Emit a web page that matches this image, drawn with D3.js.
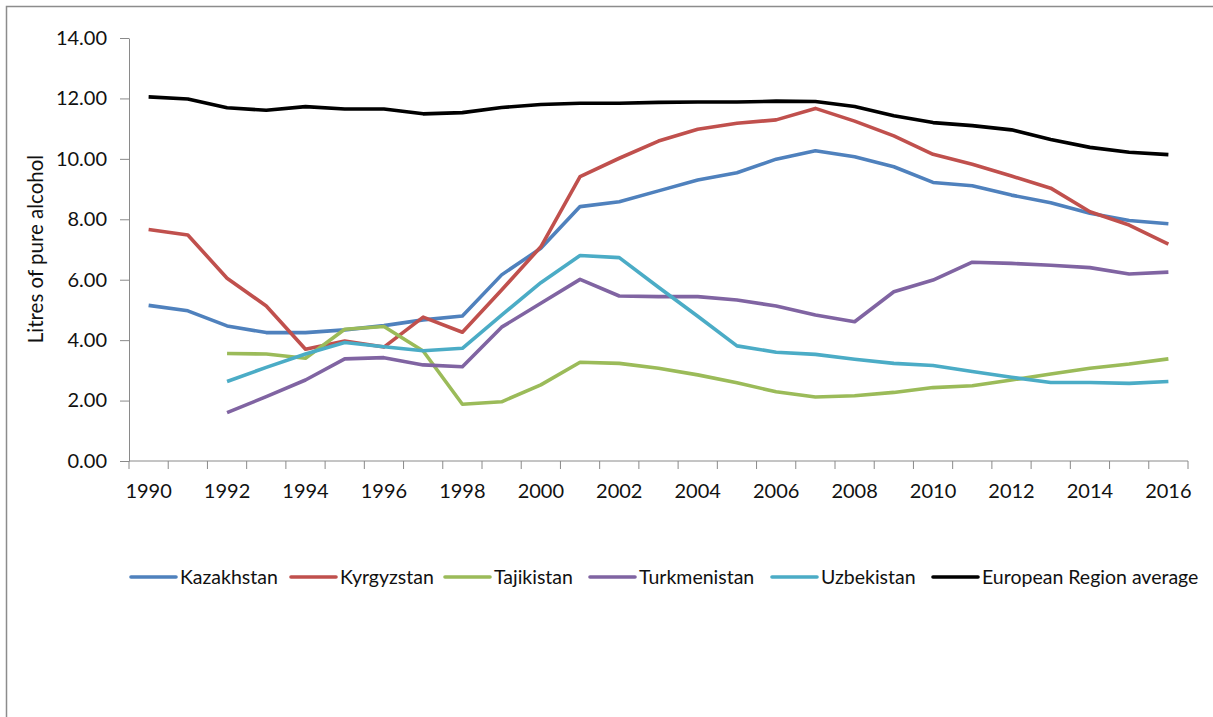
<!DOCTYPE html>
<html>
<head>
<meta charset="utf-8">
<script src="https://cdn.jsdelivr.net/npm/d3@7"></script>
<style>
  body { margin: 0; background: #fff; }
  svg { display: block; }
  text { font-family: Lato, "Open Sans", sans-serif; fill: #111; }
</style>
</head>
<body>
<svg width="1213" height="717"></svg>
<script>
// Years on the category axis.
var years = d3.range(1990, 2017);

// Series values, litres of pure alcohol per capita (null = no data).
var kazakhstan = [5.15, 4.97, 4.47, 4.25, 4.25, 4.34, 4.48, 4.67, 4.80, 6.16, 7.04, 8.42, 8.58, 8.94, 9.30, 9.54, 9.99, 10.27, 10.07, 9.74, 9.22, 9.11, 8.80, 8.55, 8.20, 7.96, 7.85];
var kyrgyzstan = [7.66, 7.48, 6.05, 5.13, 3.70, 3.97, 3.77, 4.76, 4.26, 5.66, 7.09, 9.41, 10.02, 10.59, 10.98, 11.18, 11.29, 11.67, 11.25, 10.76, 10.15, 9.82, 9.43, 9.03, 8.25, 7.81, 7.18];
var tajikistan = [null, null, 3.56, 3.54, 3.40, 4.36, 4.45, 3.64, 1.88, 1.96, 2.52, 3.27, 3.23, 3.07, 2.85, 2.59, 2.29, 2.12, 2.16, 2.27, 2.43, 2.49, 2.68, 2.88, 3.07, 3.21, 3.38];
var turkmenistan = [null, null, 1.60, 2.13, 2.68, 3.38, 3.42, 3.18, 3.12, 4.43, 5.22, 6.01, 5.46, 5.44, 5.44, 5.33, 5.13, 4.83, 4.61, 5.60, 5.99, 6.58, 6.54, 6.48, 6.40, 6.19, 6.25];
var uzbekistan = [null, null, 2.63, 3.10, 3.54, 3.92, 3.78, 3.65, 3.73, 4.83, 5.90, 6.80, 6.73, 5.75, 4.79, 3.81, 3.60, 3.53, 3.37, 3.23, 3.16, 2.96, 2.77, 2.60, 2.60, 2.57, 2.63];
var europeAvg = [12.05, 11.98, 11.69, 11.61, 11.73, 11.65, 11.65, 11.49, 11.53, 11.70, 11.80, 11.84, 11.84, 11.87, 11.88, 11.88, 11.91, 11.90, 11.73, 11.43, 11.20, 11.10, 10.96, 10.64, 10.38, 10.22, 10.14];

var seriesNames = ["Kazakhstan", "Kyrgyzstan", "Tajikistan", "Turkmenistan", "Uzbekistan", "European Region average"];
var seriesColors = ["#4f81bd", "#c0504d", "#9bbb59", "#8064a2", "#4bacc6", "#000000"];
var seriesValues = [kazakhstan, kyrgyzstan, tajikistan, turkmenistan, uzbekistan, europeAvg];

var yTicks = [0, 2, 4, 6, 8, 10, 12, 14];
var xLabels = years.filter(function(d) { return d % 2 === 0; });

var svg = d3.select("svg");
var axisColor = "#8a8a8a";

// Outer chart frame (runs off the bottom and right of the picture).
svg.append("rect")
	.attr("x", 6.5)
	.attr("y", 6.5)
	.attr("width", 1400)
	.attr("height", 1000)
	.attr("fill", "none")
	.attr("stroke", "#8c8c8c")
	.attr("stroke-width", 1.5);

var x = d3.scaleBand().domain(years).range([129, 1188]);
var y = d3.scaleLinear().domain([0, 14]).range([461, 38]);

function px(i) {
	return x(years[i]) + x.bandwidth() / 2;
}

// Y axis.
var yAxis = svg.append("g")
	.attr("transform", "translate(129,0)")
	.call(d3.axisLeft(y).tickValues(yTicks).tickFormat(d3.format(".2f")).tickSize(9).tickSizeOuter(0).tickPadding(13));
yAxis.selectAll("path, line").attr("stroke", axisColor);
yAxis.selectAll("text").style("font-size", "20px").style("font-family", "Lato, sans-serif").attr("fill", "#111");

// X axis: tick marks between categories, labels on even years.
var xAxis = svg.append("g")
	.attr("transform", "translate(0,461)");
xAxis.append("line")
	.attr("x1", 129).attr("x2", 1188)
	.attr("stroke", axisColor);
xAxis.selectAll("line.tick")
	.data(years.concat([null]))
	.enter()
	.append("line")
	.attr("class", "tick")
	.attr("x1", function(d) { return d === null ? 1188 : x(d); })
	.attr("x2", function(d) { return d === null ? 1188 : x(d); })
	.attr("y1", 0).attr("y2", 8)
	.attr("stroke", axisColor);
xAxis.selectAll("text")
	.data(xLabels)
	.enter()
	.append("text")
	.attr("x", function(d) { return x(d) + x.bandwidth() / 2; })
	.attr("y", 37)
	.attr("text-anchor", "middle")
	.style("font-size", "20px")
	.text(function(d) { return d; });

// Y axis title.
svg.append("text")
	.attr("transform", "translate(43,249) rotate(-90)")
	.attr("text-anchor", "middle")
	.style("font-size", "20.5px")
	.text("Litres of pure alcohol");

// Lines.
var line = d3.line()
	.defined(function(d) { return d !== null; })
	.x(function(d, i) { return px(i); })
	.y(function(d) { return y(d); });

svg.append("g")
	.selectAll("path")
	.data(seriesValues)
	.enter()
	.append("path")
	.attr("d", line)
	.attr("fill", "none")
	.attr("stroke", function(d, i) { return seriesColors[i]; })
	.attr("stroke-width", 3.6)
	.attr("stroke-linejoin", "round");

// Legend.
var legendStarts = [131, 291, 445, 590, 772, 933];
var legend = svg.append("g")
	.selectAll("g")
	.data(seriesNames)
	.enter()
	.append("g")
	.attr("transform", function(d, i) { return "translate(" + legendStarts[i] + ",577)"; });
legend.append("line")
	.attr("x1", 0).attr("x2", 45)
	.attr("stroke", function(d, i) { return seriesColors[i]; })
	.attr("stroke-width", 3.6)
	.attr("stroke-linecap", "round");
legend.append("text")
	.attr("x", 49)
	.attr("y", 7)
	.style("font-size", "19.5px")
	.text(function(d) { return d; });
</script>
</body>
</html>
